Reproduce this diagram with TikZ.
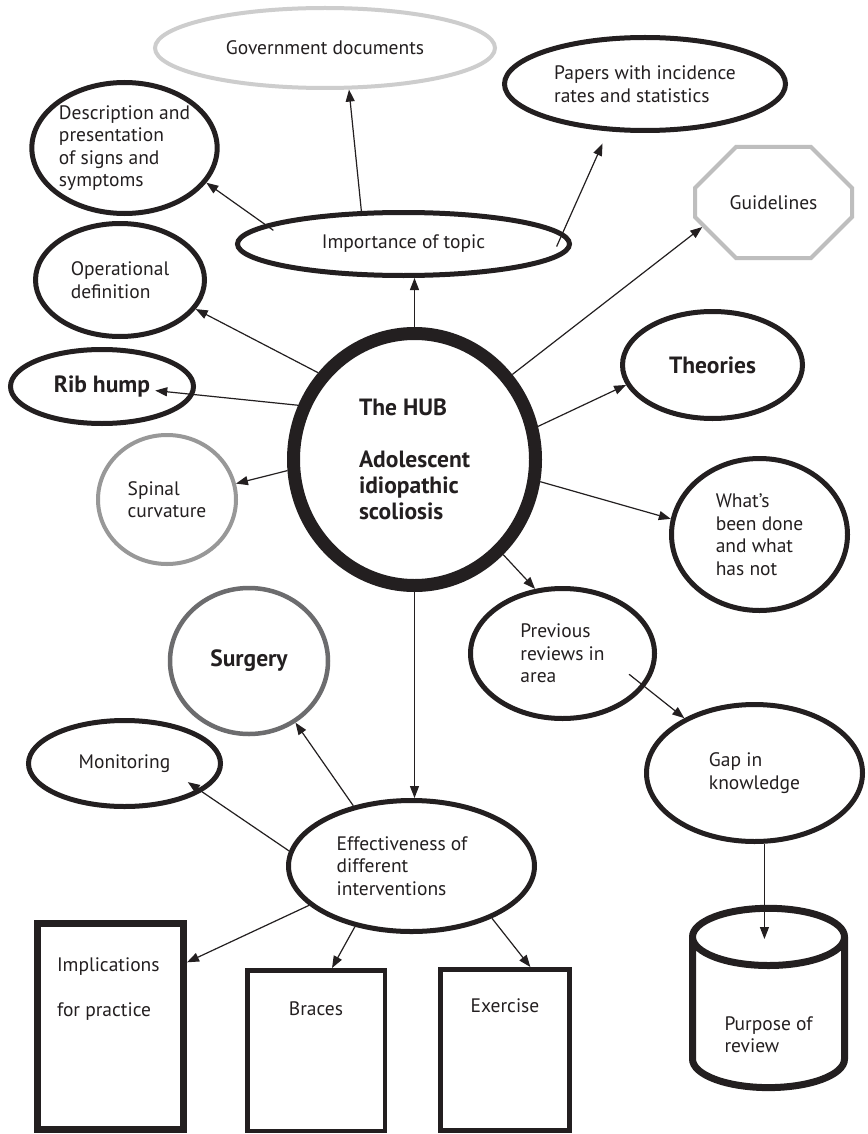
\documentclass[tikz,border=0pt]{standalone}
\usepackage{fontspec}
\setmainfont{PT Sans}
\usepackage{xcolor}
\usepackage{tikz}
\usetikzlibrary{shapes.geometric, shapes.misc, arrows.meta, calc}
\definecolor{HubInk}{RGB}{35, 31, 32}
\definecolor{HubPale}{RGB}{205, 205, 205}
\definecolor{HubSilver}{RGB}{190, 190, 190}
\definecolor{HubGrey}{RGB}{152, 152, 152}
\definecolor{HubSlate}{RGB}{108, 108, 110}

\tikzset{
  bubble/.style={ellipse, draw=HubInk, line width=5pt, inner sep=0pt, align=left,
    text=HubInk, font=\fontsize{19.5}{22.5}\selectfont},
  bolder/.style={font=\fontsize{23.5}{26}\selectfont\bfseries},
  slab/.style={rectangle, draw=HubInk, line width=5pt, inner sep=0pt,
    text=HubInk, font=\fontsize{19.5}{22.5}\selectfont},
  link/.style={draw=HubInk, line width=1.2pt, -{Triangle[length=12pt,width=9pt]}}
}

\begin{document}
\begin{tikzpicture}[x=1pt,y=-1pt]
  \useasboundingbox (0,0) rectangle (867,1134);
  \fill[white] (0,0) rectangle (867,1134);

  % Top row: sources
  \node[bubble, draw=HubPale, line width=4pt, minimum width=340pt, minimum height=80pt] (gov) at (325,48) {Government documents};
  \node[bubble, minimum width=281pt, minimum height=93pt] (papers) at (645,84) {Papers with incidence\\rates and statistics};
  \node[bubble, minimum width=180pt, minimum height=131pt] (desc) at (124.5,148) {Description and\\presentation\\of signs and\\symptoms};
  \node[bubble, minimum width=332pt, minimum height=63pt] (imp) at (403.5,244) {Importance of topic};
  \node[chamfered rectangle, chamfered rectangle xsep=34pt, chamfered rectangle ysep=34pt, draw=HubSilver, line width=4pt,
    inner sep=0pt, minimum width=157pt, minimum height=111pt, text=HubInk, font=\fontsize{19.5}{22.5}\selectfont] (guide) at (773.5,202.5) {Guidelines};
  \node[bubble, minimum width=169pt, minimum height=113pt] (oper) at (120,280) {Operational\\definition};

  % The hub and its ring
  \node[bubble, bolder, line width=13pt, minimum width=242pt, minimum height=252pt] (hub) at (414.5,459.5)
    {The HUB\\[26pt]Adolescent\\idiopathic\\scoliosis};
  \node[bubble, bolder, minimum width=183pt, minimum height=74pt] (rib) at (102,386.5) {Rib hump};
  \node[bubble, draw=HubGrey, line width=4pt, minimum width=138pt, minimum height=129pt] (spinal) at (167,499.5) {Spinal\\curvature};
  \node[bubble, bolder, minimum width=180pt, minimum height=107pt] (theories) at (712.5,365) {Theories};
  \node[bubble, minimum width=176pt, minimum height=152pt] (whats) at (759.5,534.5) {What’s\\been done\\and what\\has not};
  \node[bubble, minimum width=184pt, minimum height=130pt] (prev) at (562.5,653.5) {Previous\\reviews in\\area};
  \node[bubble, minimum width=216pt, minimum height=137pt] (gap) at (754.5,773) {Gap in\\knowledge};

  % Interventions
  \node[bubble, bolder, draw=HubSlate, line width=4.5pt, minimum width=158pt, minimum height=146pt] (surg) at (249,661) {Surgery};
  \node[bubble, minimum width=192pt, minimum height=86pt] (mon) at (124.5,763.5) {Monitoring};
  \node[bubble, minimum width=246pt, minimum height=131pt] (eff) at (411.5,866) {Effectiveness of\hspace*{19pt}\\different\\interventions};

  % Bottom boxes
  \node[slab, line width=7pt, minimum width=146pt, minimum height=206pt] (impl) at (110.5,1026.5)
    {\parbox[c][206pt][t]{107pt}{\vspace*{34.5pt}Implications\\[22pt]for practice}};
  \node[slab, line width=4.5pt, minimum width=137.5pt, minimum height=160.5pt] (braces) at (316,1050.5)
    {\parbox[c][160.5pt][t]{120pt}{\centering\vspace*{31pt}Braces}};
  \node[slab, minimum width=129pt, minimum height=161pt] (exercise) at (505,1050)
    {\parbox[c][161pt][t]{120pt}{\centering\vspace*{29pt}Exercise}};
  \node[cylinder, shape border rotate=90, aspect=0.65, draw=HubInk, line width=7pt, inner sep=0pt,
    minimum width=152pt, minimum height=176pt, text=HubInk, font=\fontsize{19.5}{22}\selectfont] (cyl) at (768.5,1014)
    {\parbox[c][90pt][c]{88pt}{\raggedright\vspace*{42pt}Purpose of\\review}};

  % Connectors
  \draw[link] (imp.142) -- (gov.-60);
  \draw[link, shorten <=-10pt] (imp.172.6) -- (desc.-23);
  \draw[link, shorten <=-15pt, shorten >=13.5pt] (imp.4.6) -- (papers.-128.5);
  \draw[link] (hub.north) -- (hub.north |- imp.south);
  \draw[link] (hub.138) -- (oper.-21);
  \draw[link] (hub.41.8) -- (guide.-161);
  \draw[link, shorten >=-39pt] (hub.155.8) -- (rib.-5.9);
  \draw[link] (hub.15.6) -- (theories.-167);
  \draw[link] (hub.185.9) -- (spinal.13);
  \draw[link] (hub.-10.7) -- (whats.170.8);
  \draw[link] (hub.-47.6) -- (prev.113.6);
  \draw[link] (hub.south) -- (hub.south |- eff.north);
  \draw[link, shorten <=-20pt] (prev.-22.4) -- (gap.142.7);
  \draw[link] (gap.-82) -- ($(gap.-82 |- cyl.center)+(0,-75)$);
  \draw[link] (eff.134.6) -- (surg.-53.3);
  \draw[link, shorten >=-17pt] (eff.173.6) -- (mon.-20.2);
  \draw[link] (eff.-159.2) -- (impl.40.7);
  \draw[link] (eff.-133) -- (braces.79.6);
  \draw[link] (eff.-33.9) -- (exercise.73.2);
\end{tikzpicture}
\end{document}
